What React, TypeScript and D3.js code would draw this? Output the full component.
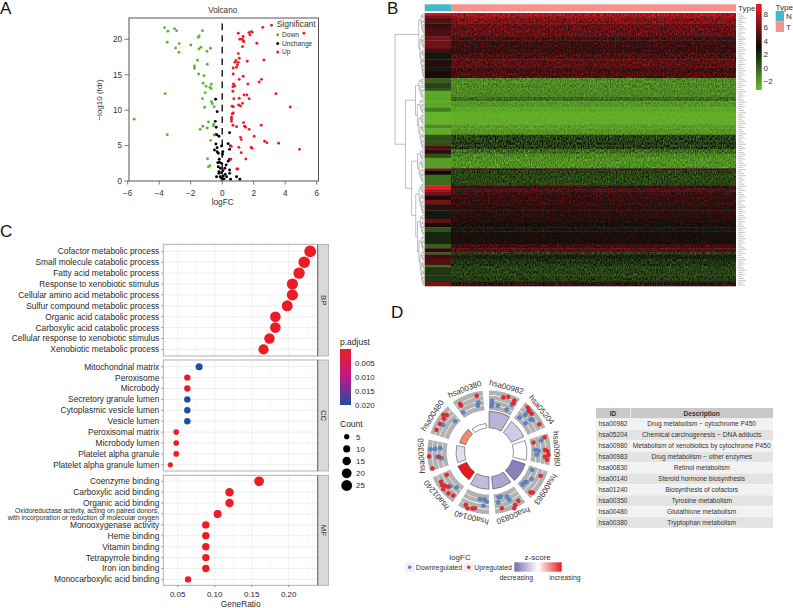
import React from "react";
import * as d3 from "d3";

// ---------- Panel A: volcano values [logFC, -log10(fdr)] ----------
const downPoints = [[-3.66,21.65],[-3.45,21.13],[-3.03,21.5],[-2.9,21.22],[-1.25,21.22],[-1.46,20.47],[-1.52,20.28],[-3.49,19.58],[-2.73,19.39],[-1.99,19.2],[-2.96,18.78],[-1.35,18.87],[-1.48,18.64],[-0.74,18.73],[-0.97,18.31],[-2.75,18.16],[-1.57,17.04],[-0.95,16.47],[-1.76,16.24],[-1.76,15.91],[-1.5,15.11],[-1.16,14.87],[-1.21,13.79],[-1.02,13.36],[-0.7,13.65],[-0.78,13.22],[-0.7,13.04],[-1.08,12.47],[-3.62,12.33],[-1.25,11.62],[-0.68,11.2],[-0.63,10.92],[-0.51,10.49],[-1.12,10.4],[-5.59,8.71],[-0.87,8.33],[-0.53,8.0],[-1.23,7.72],[-0.95,7.48],[-1.4,7.29],[-0.57,7.81],[-3.49,6.54],[-0.51,6.49],[-0.74,5.74],[-0.93,3.15],[-0.78,2.16],[-0.87,2.02]];
const upPoints = [[3.13,21.98],[2.58,21.69],[5.19,20.85],[1.02,20.85],[1.84,21.08],[1.69,20.94],[1.76,20.6],[1.9,21],[1.33,20.4],[1.12,20],[1.33,19.8],[1.27,20],[1.38,19.67],[2.2,19.44],[1.29,18.96],[1.02,17.98],[1.08,17.32],[2.65,17.08],[0.87,17],[0.8,16.75],[1.59,16.9],[1.02,16.75],[0.97,16.42],[0.91,16.05],[0.7,15.95],[0.7,15.1],[1.33,14.78],[1.08,14.35],[2.5,14.35],[2.35,13.98],[1.63,13.69],[0.72,13.69],[0.8,13.41],[0.68,13.32],[0.68,12.66],[3.41,12.33],[1.38,12.14],[1.57,12.14],[0.74,11.62],[1.08,11.67],[1.71,11.62],[1.29,10.96],[1.04,10.73],[1.16,10.59],[4.32,10.45],[0.63,10.54],[0.7,10.49],[0.7,9.6],[0.63,9.46],[0.59,8.99],[0.59,8.71],[0.59,8.42],[1.35,8.24],[0.68,7.86],[2.48,7.86],[1.42,7.72],[0.91,7.67],[1.48,7.58],[1.71,7.29],[2.03,6.31],[1.16,6.16],[1.21,5.84],[2.69,5.6],[2.84,5.41],[3.58,5.32],[0.57,4.89],[1.06,4.75],[1.84,4.75],[1.9,4.61],[4.91,4.47],[1.21,4.0],[1.5,3.11],[0.55,3.06],[0.93,1.69],[0.99,1.69]];
const unchangedPoints = [[-0.42,11.53],[-0.32,9.79],[-0.44,8.42],[-0.38,7.58],[0.47,6.82],[-0.42,6.54],[-0.34,6.54],[-0.21,6.31],[-0.4,5.22],[-0.32,4.71],[-0.04,4.94],[0.38,5.27],[0.53,4.94],[-0.49,4.38],[-0.32,4.14],[0.04,4.14],[0.47,4.47],[-0.25,3.91],[0.02,3.76],[0.47,3.06],[0.38,2.78],[-0.19,3.06],[-0.17,2.64],[-0.28,2.59],[-0.04,2.49],[0.25,2.26],[-0.25,2.02],[-0.11,1.79],[0.17,1.79],[0.47,1.55],[0.04,1.46],[-0.21,1.32],[-0.04,1.18],[0.19,0.94],[0.47,1.08],[-0.36,0.61],[-0.13,0.61],[0.06,0.71],[0.28,0.61],[0.91,0.61],[-0.04,0.38],[0.11,0.28],[1.12,0.24],[0.53,0.24],[-0.21,1.08]];
const volcanoXTicks = [-6, -4, -2, 0, 2, 4, 6];
const volcanoYTicks = [0, 5, 10, 15, 20];
const volcanoLegend = ["Down", "Unchange", "Up"];

// ---------- Panel B: heatmap bands, top to bottom: [rows, N level, T level, T scatter] ----------
const heatBands = [
  [1,8.5,7.5,2],[1,6,7,2],[3,5,6.2,1.7],[2,4.2,5.5,1.6],[4,4.8,5.5,1.6],[2,6,4.5,1.8],[4,5.8,4.2,1.8],[2,4.5,4,1.8],[3,2.5,4.8,1.5],[4,3.8,5.2,1.5],[2,2.5,4.6,1.5],[3,3.5,4.8,1.5],
  [2,0,-1.5,1.3],[3,1,-1.5,1.3],[1,0.5,-1.5,1.3],[3,-2.5,-1.5,1],[2,-2.5,-0.5,1.2],[3,-2.5,-2,0.9],[2,-1,-2.5,0.6],[6,-3,-2.8,0.35],[2,-1.5,-2.2,0.8],[3,-2.7,-2,0.8],[3,0.5,1,1.8],[2,0.5,1.3,1.8],[2,5,1.2,1.8],
  [2,4,-0.5,1.8],[2,0.5,-1.5,1.6],[5,-2.2,-1.8,1.3],[1,6,3.5,3],[2,3,1,1.6],[5,-0.5,0.8,1.3],[2,9,4.3,1.6],[1,6.5,4.2,1.8],[2,6,4.2,1.8],[2,3.5,4.2,1.4],[2,6,4,1.4],[3,4,3.8,1.2],[4,2.5,3.7,1.2],[2,5.5,3.4,1.2],[2,3.5,3,1.1],[2,0.5,2.8,1.3],[6,2,3.2,0.9],[2,0,4.5,1.4],[2,4,5,1.4],[1,0,1.5,2.2],[2,4.5,2.2,1.1],[3,5,1.5,1.3],[1,-0.5,1.2,1.3],[4,1.5,1,1.3],[3,1.5,1.2,1.3],[2,6,3.5,2.2],
];
const heatLegendTicks = [8, 6, 4, 2, 0, -2];
const typeLevels = ["N", "T"];

// ---------- Panel C: GO dot plot ----------
const bpTerms = ["Cofactor metabolic process","Small molecule catabolic process","Fatty acid metabolic process","Response to xenobiotic stimulus","Cellular amino acid metabolic process","Sulfur compound metabolic process","Organic acid catabolic process","Carboxylic acid catabolic process","Cellular response to xenobiotic stimulus","Xenobiotic metabolic process"];
const bpRatio = [0.229,0.221,0.214,0.205,0.205,0.198,0.182,0.182,0.174,0.166];
const bpCount = [30,29,28,27,27,26,24,24,23,22];
const bpAdjust = [0.001,0.001,0.001,0.001,0.001,0.001,0.001,0.001,0.001,0.001];
const ccTerms = ["Mitochondrial matrix","Peroxisome","Microbody","Secretory granule lumen","Cytoplasmic vesicle lumen","Vesicle lumen","Peroxisomal matrix","Microbody lumen","Platelet alpha granule","Platelet alpha granule lumen"];
const ccRatio = [0.079,0.063,0.063,0.063,0.063,0.063,0.048,0.048,0.048,0.04];
const ccCount = [10,8,8,8,8,8,6,6,6,5];
const ccAdjust = [0.021,0.001,0.001,0.021,0.021,0.021,0.001,0.001,0.001,0.001];
const mfTerms = ["Coenzyme binding","Carboxylic acid binding","Organic acid binding","Oxidoreductase activity, acting on paired donors,|with incorporation or reduction of molecular oxygen","Monooxygenase activity","Heme binding","Vitamin binding","Tetrapyrrole binding","Iron ion binding","Monocarboxylic acid binding"];
const mfRatio = [0.16,0.12,0.12,0.104,0.088,0.088,0.088,0.088,0.088,0.064];
const mfCount = [20,15,15,13,11,11,11,11,11,8];
const mfAdjust = [0.001,0.001,0.001,0.001,0.001,0.001,0.001,0.001,0.001,0.001];
const ratioTicks = [0.05, 0.1, 0.15, 0.2];
const ratioMinor = [0.075, 0.125, 0.175, 0.225];
const adjustTicks = [0.005, 0.01, 0.015, 0.02];
const countTicks = [5, 10, 15, 20, 25];

// ---------- Panel D: GO circle ----------
const pathwayIds = ["hsa00982","hsa05204","hsa00980","hsa00983","hsa00830","hsa00140","hsa01240","hsa00350","hsa00480","hsa00380"];
const pathwayNames = ["Drug metabolism − cytochrome P450","Chemical carcinogenesis − DNA adducts","Metabolism of xenobiotics by cytochrome P450","Drug metabolism − other enzymes","Retinol metabolism","Steroid hormone biosynthesis","Biosynthesis of cofactors","Tyrosine metabolism","Glutathione metabolism","Tryptophan metabolism"];
const pathwayZ = [-1.25,-0.85,0,-2.1,-1.45,-1.1,3,-0.5,1.4,0];
const pathwayGenes = [41,38,38,38,37,37,34,33,31,29];
// per pathway: [position along the sector, position across the logFC ring]
const pathwayUp = [
  [[.49,.74],[.64,.83],[.87,.78],[.88,.64]],
  [[.16,.86],[.27,.81],[.4,.78],[.83,.78]],
  [[.1,.78],[.19,.17],[.52,.71],[.57,.83],[.69,.88],[.75,.71],[.85,.83]],
  [[.22,.74],[.87,.79],[.82,.88]],
  [[.16,.74],[.32,.84],[.39,.98],[.77,.78]],
  [[.79,.78],[.7,.91],[.55,.83],[.47,.79]],
  [[.86,.29],[.75,.72],[.63,.76],[.56,.67],[.29,.79],[.12,.71],[.5,.84],[.46,.57]],
  [[.07,.84],[.47,.91],[.43,.4]],
  [[.17,.76],[.4,.74],[.62,.71],[.71,.86],[.78,.72]],
  [[.79,.79],[.17,.72],[.17,.62]],
];
const pathwayDown = [
  [[.11,.48],[.1,.2],[.36,.26],[.75,.2],[.86,.53],[.12,.32]],
  [[.18,.22],[.27,.5],[.52,.55],[.52,.22],[.58,.62],[.27,.74]],
  [[.5,.22],[.7,.28],[.17,.57],[.55,.38]],
  [[.14,.22],[.67,.28],[.75,.22],[.87,.22],[.47,.41]],
  [[.8,.19],[.7,.19],[.47,.28],[.43,.48],[.85,.45]],
  [[.37,.28],[.19,.26],[.09,.36],[.2,.59]],
  [[.43,.48],[.22,.29]],
  [[.7,.83],[.72,.6],[.76,.34],[.43,.5],[.36,.28]],
  [[.43,.57],[.82,.2]],
  [[.8,.43],[.75,.29],[.1,.26]],
];

const FONT = "'Liberation Sans', Arial, sans-serif";

// ---------- shared colour scales ----------
const heatColor = d3.scaleLinear<string>().domain([-3.3, 3, 9.5]).range(["#68bd2c", "#0a0a0a", "#f01c24"]).clamp(true);
const adjustColor = d3.scaleLinear<string>().domain([0.001, 0.0105, 0.021]).range(["#ed1c24", "#bf1a86", "#1f4ea1"]);
const zColor = d3.scaleLinear<string>().domain([-3, 0, 1.4, 3]).range(["#5a45a0", "#ffffff", "#ef8c6d", "#e8181d"]);

function Volcano() {
  const x = d3.scaleLinear().domain([-6, 6]).range([127.7, 316.7]);
  const y = d3.scaleLinear().domain([0, 20]).range([181, 39.3]);
  const dot = (pts: number[][], fill: string) =>
    pts.map((p, i) => <circle key={i} cx={x(p[0])} cy={y(p[1])} r={1.45} fill={fill} />);
  const legendColors = ["#5bb82f", "#000000", "#ee1c25"];
  return (
    <g fontFamily={FONT} fill="#333">
      <text x={222.7} y={13.2} fontSize={8.2} textAnchor="middle">Volcano</text>
      {volcanoXTicks.map((t) => (
        <g key={t}>
          <line x1={x(t)} x2={x(t)} y1={181} y2={184.5} stroke="#444" strokeWidth={0.7} />
          <text x={x(t)} y={195.6} fontSize={8.2} textAnchor="middle">{t < 0 ? `−${-t}` : t}</text>
        </g>
      ))}
      {volcanoYTicks.map((t) => (
        <g key={t}>
          <line x1={124.5} x2={129} y1={y(t)} y2={y(t)} stroke="#444" strokeWidth={0.7} />
          <text x={122} y={y(t) + 2.9} fontSize={8.2} textAnchor="end">{t}</text>
        </g>
      ))}
      <text x={222.7} y={205} fontSize={8.25} textAnchor="middle">logFC</text>
      <text transform="translate(102,100) rotate(-90)" fontSize={8} textAnchor="middle">−log10 (fdr)</text>
      {dot(unchangedPoints, "#000")}
      {dot(downPoints, "#5bb82f")}
      {dot(upPoints, "#ee1c25")}
      <line x1={x(0)} x2={x(0)} y1={y(0)} y2={20.7} stroke="#000" strokeWidth={1.3} strokeDasharray="6.6 5" />
      <rect x={129} y={18} width={189.5} height={163} fill="none" stroke="#555" strokeWidth={1} />
      <text x={276.7} y={27} fontSize={8.45}>Significant</text>
      {volcanoLegend.map((name, i) => (
        <g key={name}>
          <circle cx={277.7} cy={34.7 + i * 8.7} r={1.5} fill={legendColors[i]} />
          <text x={282} y={37 + i * 8.7} fontSize={6.65}>{name}</text>
        </g>
      ))}
    </g>
  );
}

// A simple merge tree drawn beside the heatmap rows.
type TreeNode = { h: number; lo: number; hi: number; kids?: TreeNode[] };
function buildTree(lo: number, hi: number, h: number): TreeNode {
  if (hi <= lo) return { h: 0, lo, hi };
  const cut = lo + Math.max(0, Math.floor((hi - lo) * 0.3));
  return { h, lo, hi, kids: [buildTree(lo, cut, h * 0.62), buildTree(cut + 1, hi, h * 0.8)] };
}
function join(h: number, a: TreeNode, b: TreeNode): TreeNode {
  return { h, lo: a.lo, hi: b.hi, kids: [a, b] };
}

function Heatmap() {
  const left = 424.7, split = 451, right = 736, top = 13, bottom = 286;
  const rowCount = d3.sum(heatBands, (b) => b[0]);
  const rowY = d3.scaleBand<number>().domain(d3.range(rowCount)).range([top, bottom]);
  let cursor = 0;
  const bands = heatBands.map((b) => {
    const r = { y: rowY(cursor)!, rows: b[0], h: rowY.step() * b[0], n: b[1], t: b[2], g: b[3] };
    cursor += b[0];
    return r;
  });
  const barY = d3.scaleLinear().domain([-2, 8]).range([81, 14]);
  const barStops = d3.range(0, 1.01, 0.1).map((f) => {
    const v = barY.invert(90 + (4 - 90) * f);
    return { f, c: heatColor(v) };
  });
  const treeX = d3.scaleLinear().domain([0, 1]).range([left, 395]);
  const tree = join(1,
    buildTree(0, 30, 0.2),
    join(0.65,
      buildTree(31, 64, 0.31),
      join(0.44, buildTree(65, 80, 0.24), buildTree(81, 129, 0.3))));
  const segments: string[] = [];
  const centre = (n: TreeNode): number => {
    if (!n.kids) return rowY(n.lo)! + rowY.step() / 2;
    const a = centre(n.kids[0]), b = centre(n.kids[1]);
    const px = treeX(n.h);
    segments.push(`M${treeX(n.kids[0].h)},${a}H${px}V${b}H${treeX(n.kids[1].h)}`);
    return (a + b) / 2;
  };
  centre(tree);
  const grain = (id: string, seed: number) => (
    <filter id={id} filterUnits="userSpaceOnUse" x={split} y={top} width={right - split} height={bottom - top} colorInterpolationFilters="sRGB">
      <feTurbulence type="fractalNoise" baseFrequency="0.85 0.42" numOctaves={1} seed={seed} result="n" />
      <feGaussianBlur in="n" stdDeviation="0.25" result="b" />
      <feColorMatrix in="b" type="matrix" values="0 0 0 0 0  0 0 0 0 0  0 0 0 0 0  5 0 0 0 -2.45" result="m" />
      <feComposite in="SourceGraphic" in2="m" operator="in" />
    </filter>
  );
  return (
    <g fontFamily={FONT}>
      <defs>
        {/* Cell-level scatter of the tumour columns cannot be read individually from the picture:
            it is shown as a filter texture around the band levels above, not as data. */}
        {grain("grainA", 3)}
        {grain("grainB", 11)}
        <linearGradient id="heatBar" x1="0" y1="1" x2="0" y2="0">
          {barStops.map((s) => <stop key={s.f} offset={s.f} stopColor={s.c} />)}
        </linearGradient>
      </defs>
      <rect x={left} y={4.3} width={split - left} height={7} fill="#46b8c8" />
      <rect x={split} y={4.3} width={right - split} height={7} fill="#f4938a" />
      <text x={738} y={10.5} fontSize={8} fill="#333">Type</text>
      {bands.map((b, i) => (
        <g key={i}>
          <rect x={left} y={b.y} width={split - left} height={b.h + 0.3} fill={heatColor(b.n)} />
          <rect x={split} y={b.y} width={right - split} height={b.h + 0.3} fill={heatColor(b.t)} />
          <rect x={split} y={b.y} width={right - split} height={b.h} fill={heatColor(b.t - b.g)} filter="url(#grainA)" />
          <rect x={split} y={b.y} width={right - split} height={b.h} fill={heatColor(b.t + b.g)} filter="url(#grainB)" />
        </g>
      ))}
      {d3.range(rowCount).map((r) => (
        <line key={r} x1={738} x2={742 + ((r * 7) % 5)} y1={rowY(r)! + rowY.step() / 2} y2={rowY(r)! + rowY.step() / 2} stroke="#c4c4c4" strokeWidth={1} />
      ))}
      <path d={segments.join("")} fill="none" stroke="#8a8a8a" strokeWidth={0.55} />
      <rect x={756} y={4} width={5.7} height={86} fill="url(#heatBar)" />
      {heatLegendTicks.map((t) => (
        <text key={t} x={763.5} y={barY(t) + 2.9} fontSize={8} fill="#333">{t < 0 ? `−${-t}` : t}</text>
      ))}
      <text x={775.5} y={9.5} fontSize={8} fill="#333">Type</text>
      {typeLevels.map((t, i) => (
        <g key={t}>
          <rect x={775.7} y={11 + i * 10.5} width={8.3} height={10.5} fill={i ? "#f4938a" : "#46b8c8"} />
          <text x={786} y={19 + i * 10.5} fontSize={8} fill="#333">{t}</text>
        </g>
      ))}
    </g>
  );
}

function DotPlot() {
  const x = d3.scaleLinear().domain([0.05, 0.2]).range([177.7, 288.7]);
  const r = d3.scalePow().exponent(0.5).domain([5, 30]).range([2.6, 5.9]);
  const left = 163.3, right = 317.7, stripRight = 328.5;
  const panels = [
    { name: "BP", top: 244.3, bottom: 356, first: 251.3, terms: bpTerms, ratio: bpRatio, count: bpCount, adj: bpAdjust },
    { name: "CC", top: 360, bottom: 471, first: 366.7, terms: ccTerms, ratio: ccRatio, count: ccCount, adj: ccAdjust },
    { name: "MF", top: 475.3, bottom: 585.3, first: 481.3, terms: mfTerms, ratio: mfRatio, count: mfCount, adj: mfAdjust },
  ];
  const step = 10.9;
  return (
    <g fontFamily={FONT} fill="#2a2a2a">
      <defs>
        <linearGradient id="adjBar" x1="0" y1="0" x2="0" y2="1">
          <stop offset="0" stopColor="#ed1c24" />
          <stop offset="0.5" stopColor="#bf1a86" />
          <stop offset="1" stopColor="#1f4ea1" />
        </linearGradient>
      </defs>
      {panels.map((p) => (
        <g key={p.name}>
          <rect x={right} y={p.top} width={stripRight - right} height={p.bottom - p.top} fill="#d9d9d9" stroke="#a8a8a8" strokeWidth={0.8} />
          <text transform={`translate(${(right + stripRight) / 2 - 2.6},${(p.top + p.bottom) / 2}) rotate(90)`} fontSize={7.8} textAnchor="middle">{p.name}</text>
          {ratioMinor.map((t) => <line key={t} x1={x(t)} x2={x(t)} y1={p.top} y2={p.bottom} stroke="#f1f1f1" strokeWidth={0.5} />)}
          {ratioTicks.map((t) => <line key={t} x1={x(t)} x2={x(t)} y1={p.top} y2={p.bottom} stroke="#e8e8e8" strokeWidth={0.7} />)}
          {p.terms.map((term, i) => {
            const cy = p.first + i * step;
            const lines = term.split("|");
            return (
              <g key={term}>
                <line x1={left} x2={right} y1={cy} y2={cy} stroke="#e8e8e8" strokeWidth={0.7} />
                <line x1={161.3} x2={left} y1={cy} y2={cy} stroke="#555" strokeWidth={0.6} />
                {lines.length === 1
                  ? <text x={159.3} y={cy + 2.9} fontSize={8.4} textAnchor="end">{term}</text>
                  : lines.map((l, k) => <text key={l} x={159} y={cy - 0.9 + k * 7} fontSize={6.7} textAnchor="end">{l}</text>)}
                <circle cx={x(p.ratio[i])} cy={cy} r={r(p.count[i])} fill={adjustColor(p.adj[i])} />
              </g>
            );
          })}
          <rect x={left} y={p.top} width={right - left} height={p.bottom - p.top} fill="none" stroke="#a8a8a8" strokeWidth={0.9} />
          <line x1={right} x2={right} y1={p.top} y2={p.bottom} stroke="#555" strokeWidth={0.7} />
        </g>
      ))}
      {ratioTicks.map((t) => (
        <g key={t}>
          <line x1={x(t)} x2={x(t)} y1={585.3} y2={587.3} stroke="#555" strokeWidth={0.6} />
          <text x={x(t)} y={597} fontSize={8} textAnchor="middle">{d3.format(".2f")(t)}</text>
        </g>
      ))}
      <text x={240.7} y={607} fontSize={8.3} textAnchor="middle">GeneRatio</text>
      <text x={340} y={345} fontSize={8.5}>p.adjust</text>
      <rect x={340} y={349} width={11} height={56} fill="url(#adjBar)" />
      {adjustTicks.map((t, i) => (
        <text key={t} x={355} y={365.8 + i * 13.9} fontSize={7.9}>{d3.format(".3f")(t)}</text>
      ))}
      <text x={340} y={427} fontSize={8.5}>Count</text>
      {countTicks.map((c, i) => (
        <g key={c}>
          <circle cx={346.7} cy={436.7 + i * 12.2} r={r(c)} fill="#000" />
          <text x={356} y={439.5 + i * 12.2} fontSize={7.9}>{c}</text>
        </g>
      ))}
    </g>
  );
}

function GoCircle() {
  const cx = 489, cy = 452.3;
  const deg = Math.PI / 180;
  const span = 30, pitch = 36;
  const ringIn = 42.3, ringOut = 61.8, coreIn = 24.5;
  const across = d3.scaleLinear().domain([0, 1]).range([ringIn, ringOut]);
  const grayArc = d3.arc();
  const angle = (i: number, f: number) => (i * pitch + f * span) * deg;
  const place = (i: number, p: number[]) => {
    const a = angle(i, p[0]), rr = across(p[1]);
    return [cx + rr * Math.sin(a), cy - rr * Math.cos(a)];
  };
  return (
    <g fontFamily={FONT} fill="#333">
      <defs>
        <linearGradient id="zBar" x1="0" y1="0" x2="1" y2="0">
          <stop offset="0" stopColor="#7a68b3" />
          <stop offset="0.5" stopColor="#ffffff" />
          <stop offset="1" stopColor="#e8181d" />
        </linearGradient>
      </defs>
      {pathwayIds.map((id, i) => {
        const a0 = angle(i, 0), a1 = angle(i, 1);
        const mid = (a0 + a1) / 2, midDeg = i * pitch + span / 2;
        const lx = cx + 67.5 * Math.sin(mid), ly = cy - 67.5 * Math.cos(mid);
        return (
          <g key={id}>
            <path transform={`translate(${cx},${cy})`} fill="#b2b2b2" d={grayArc({ innerRadius: ringIn, outerRadius: ringOut, startAngle: a0, endAngle: a1 })!} />
            {[0.25, 0.5, 0.75].map((f) => (
              <path key={f} transform={`translate(${cx},${cy})`} fill="#ffffff" d={grayArc({ innerRadius: across(f) - 0.3, outerRadius: across(f) + 0.3, startAngle: a0, endAngle: a1 })!} />
            ))}
            <path transform={`translate(${cx},${cy})`} fill={zColor(pathwayZ[i])} stroke="#333" strokeWidth={0.5} d={grayArc({ innerRadius: coreIn, outerRadius: pathwayGenes[i], startAngle: a0, endAngle: a1 })!} />
            {pathwayDown[i].map((p, k) => {
              const [px, py] = place(i, p);
              return <circle key={k} cx={px} cy={py} r={2.1} fill="#5b86cc" stroke="#3f5f96" strokeWidth={0.3} />;
            })}
            {pathwayUp[i].map((p, k) => {
              const [px, py] = place(i, p);
              return <circle key={k} cx={px} cy={py} r={2.1} fill="#e8282c" stroke="#b52024" strokeWidth={0.3} />;
            })}
            <text transform={`translate(${lx},${ly}) rotate(${midDeg})`} fontSize={8} textAnchor="middle" dominantBaseline="central">{id}</text>
          </g>
        );
      })}
      <text x={460} y={559.5} fontSize={8} textAnchor="middle">logFC</text>
      <rect x={405} y={562.7} width={9.3} height={9} fill="#f0f0f0" />
      <circle cx={409.7} cy={567.3} r={1.7} fill="#5b86cc" />
      <text x={415.7} y={569.8} fontSize={6.9}>Downregulated</text>
      <rect x={464} y={562.7} width={9.3} height={9} fill="#f0f0f0" />
      <circle cx={468.7} cy={567.3} r={1.7} fill="#e8282c" />
      <text x={474.3} y={569.8} fontSize={6.9}>Upregulated</text>
      <text x={537.7} y={559.5} fontSize={8} textAnchor="middle">z-score</text>
      <rect x={514.3} y={562.3} width={47.4} height={9.4} fill="url(#zBar)" />
      <text x={516.3} y={580} fontSize={6.9} textAnchor="middle">decreasing</text>
      <text x={565} y={580} fontSize={6.9} textAnchor="middle">increasing</text>
    </g>
  );
}

function PathwayTable() {
  const left = 596, colSplit = 630.3, right = 773, top = 408, headH = 10.4, rowH = 10.93;
  return (
    <g fontFamily={FONT} fill="#333" fontSize={6.6}>
      <rect x={left} y={top} width={colSplit - left} height={headH} fill="#c9c9c9" />
      <rect x={colSplit + 0.6} y={top} width={right - colSplit - 0.6} height={headH} fill="#c9c9c9" />
      <text x={613} y={top + 7.6} textAnchor="middle" fontWeight="bold">ID</text>
      <text x={701.7} y={top + 7.6} textAnchor="middle" fontWeight="bold">Description</text>
      {pathwayIds.map((id, i) => {
        const y = top + headH + 0.4 + i * rowH;
        return (
          <g key={id}>
            <rect x={left} y={y} width={right - left} height={rowH - 0.3} fill={i % 2 ? "#e3e3e3" : "#f2f2f2"} />
            <text x={613} y={y + 7.6} textAnchor="middle">{id}</text>
            <text x={701.7} y={y + 7.6} textAnchor="middle">{pathwayNames[i]}</text>
          </g>
        );
      })}
    </g>
  );
}

export default function App() {
  const letters = [["A", 0, 13.5], ["B", 387, 13.5], ["C", 0, 237], ["D", 391, 318]];
  return (
    <svg width={793} height={608} viewBox="0 0 793 608" style={{ position: "absolute", left: 0, top: 0, background: "#fff" }}>
      {letters.map(([t, x, y]) => (
        <text key={t as string} x={x as number} y={y as number} fontFamily={FONT} fontSize={17} fill="#111">{t}</text>
      ))}
      <Volcano />
      <Heatmap />
      <DotPlot />
      <GoCircle />
      <PathwayTable />
    </svg>
  );
}
